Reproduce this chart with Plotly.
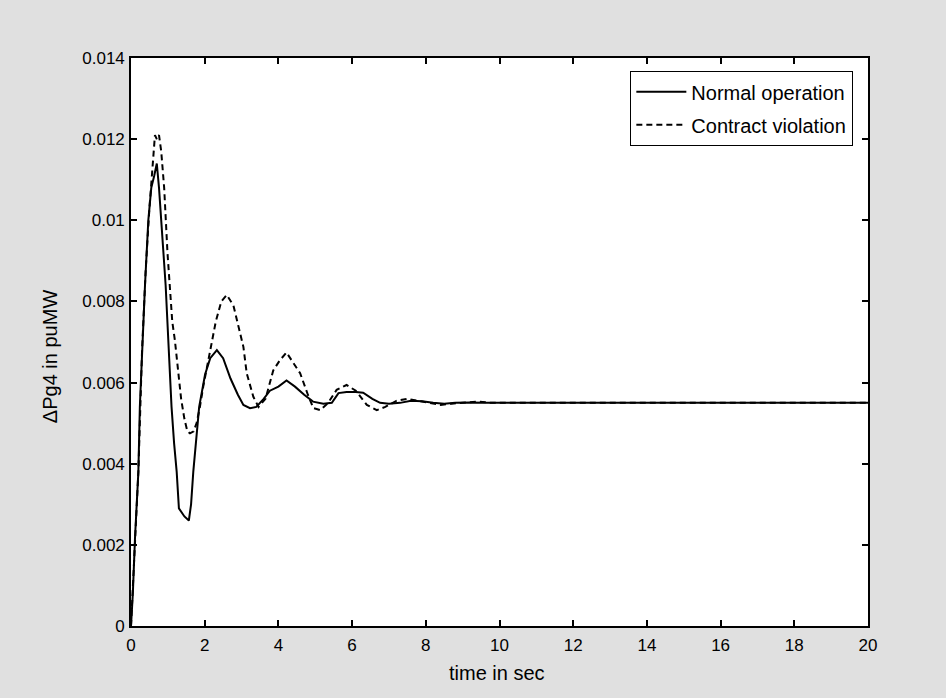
import plotly.graph_objects as go

# ---- data ----
t_normal = [0, 0.05, 0.11, 0.2, 0.24, 0.31, 0.38, 0.47, 0.55, 0.63, 0.70, 0.76, 0.81, 0.88,
            0.94, 1.01, 1.10, 1.17, 1.24, 1.30, 1.45, 1.57, 1.63, 1.69, 1.77, 1.85, 2.01,
            2.15, 2.33, 2.5, 2.7, 2.9, 3.05, 3.23, 3.4, 3.6, 3.77, 4.0, 4.22, 4.45, 4.7,
            4.94, 5.22, 5.45, 5.63, 5.85, 6.1, 6.3, 6.55, 6.76, 7.0, 7.3, 7.6, 7.9, 8.2,
            8.5, 8.8, 9.2, 9.6, 10, 12, 14, 16, 18, 20]
v_normal = [0, 0.0008, 0.0022, 0.0038, 0.0054, 0.0071, 0.0084, 0.0100, 0.0108, 0.0111,
            0.0114, 0.0108, 0.0100, 0.0092, 0.0084, 0.0071, 0.0054, 0.0045, 0.0038, 0.0029,
            0.0027, 0.0026, 0.0030, 0.0038, 0.0046, 0.0054, 0.0062, 0.0066, 0.0068, 0.0066,
            0.0061, 0.0057, 0.00545, 0.00537, 0.0054, 0.0056, 0.0058, 0.0059, 0.00605,
            0.0059, 0.0057, 0.00553, 0.00548, 0.0055, 0.00574, 0.00577, 0.00577, 0.00575,
            0.0056, 0.0055, 0.00548, 0.0055, 0.00555, 0.00554, 0.0055, 0.00548, 0.0055,
            0.00551, 0.0055, 0.0055, 0.0055, 0.0055, 0.0055, 0.0055, 0.0055]

t_violation = [0, 0.11, 0.2, 0.3, 0.4, 0.5, 0.58, 0.65, 0.70, 0.76, 0.82, 0.90, 0.99, 1.06,
               1.12, 1.19, 1.27, 1.36, 1.45, 1.53, 1.60, 1.70, 1.78, 1.87, 1.96, 2.05, 2.17,
               2.3, 2.45, 2.6, 2.78, 2.91, 3.05, 3.14, 3.32, 3.46, 3.65, 3.86, 4.04, 4.22,
               4.4, 4.59, 4.8, 4.95, 5.14, 5.35, 5.58, 5.85, 6.1, 6.4, 6.67, 6.9, 7.2, 7.5,
               7.8, 8.1, 8.4, 8.7, 9.0, 9.4, 9.8, 10.5, 12, 14, 16, 18, 20]
v_violation = [0, 0.0021, 0.0038, 0.0068, 0.0088, 0.0103, 0.0113, 0.0121, 0.0120, 0.0121,
               0.0117, 0.0108, 0.0092, 0.0083, 0.0075, 0.00705, 0.0063, 0.0056, 0.0051,
               0.0048, 0.00475, 0.0048, 0.0050, 0.0054, 0.0059, 0.0063, 0.0069, 0.0075,
               0.0080, 0.00816, 0.0079, 0.00738, 0.00688, 0.00623, 0.00565, 0.0054, 0.0056,
               0.0063, 0.00655, 0.00674, 0.0065, 0.00623, 0.0057, 0.00537, 0.00532, 0.0055,
               0.00582, 0.00594, 0.0058, 0.00545, 0.00532, 0.0054, 0.00555, 0.0056, 0.00555,
               0.0055, 0.00545, 0.00548, 0.0055, 0.00553, 0.0055, 0.0055, 0.0055, 0.0055,
               0.0055, 0.0055, 0.0055]

x_ticks = [0, 2, 4, 6, 8, 10, 12, 14, 16, 18, 20]
y_ticks = [0, 0.002, 0.004, 0.006, 0.008, 0.01, 0.012, 0.014]
y_tick_labels = ["0", "0.002", "0.004", "0.006", "0.008", "0.01", "0.012", "0.014"]

series_names = ["Normal operation", "Contract violation"]
x_title = "time in sec"
y_title = "ΔPg4 in puMW"

FONT = "Liberation Sans, Arial, sans-serif"

fig = go.Figure()
fig.add_trace(go.Scatter(x=t_normal, y=v_normal, mode="lines", name=series_names[0],
                         legendgroup="a",
                         line=dict(color="black", width=2)))
fig.add_trace(go.Scatter(x=t_violation, y=v_violation, mode="lines", name=series_names[1],
                         legendgroup="b",
                         line=dict(color="black", width=2, dash="6px,4px")))

axis_common = dict(showline=True, linecolor="black", linewidth=1.6, mirror="ticks",
                   ticks="inside", ticklen=6, tickwidth=1.6, tickcolor="black",
                   showgrid=False, zeroline=False,
                   tickfont=dict(family=FONT, size=17, color="black"))

fig.update_xaxes(range=[0, 20], tickvals=x_ticks, ticklabelstandoff=3, **axis_common)
fig.update_yaxes(range=[0, 0.014], tickvals=y_ticks, ticktext=y_tick_labels,
                 ticklabelstandoff=1, **axis_common)

fig.update_layout(
    width=946, height=698,
    margin=dict(l=131, r=78, t=58, b=72),
    paper_bgcolor="#e0e0e0",
    plot_bgcolor="white",
    showlegend=True,
    legend=dict(x=0.9797, y=0.977, xanchor="right", yanchor="top",
                bgcolor="white", bordercolor="black", borderwidth=1.3,
                font=dict(family=FONT, size=20, color="black"),
                traceorder="grouped", tracegroupgap=4,
                itemwidth=50),
    annotations=[
        dict(text=x_title, xref="paper", yref="paper", x=0.497, y=-0.083,
             xanchor="center", yanchor="middle", showarrow=False,
             font=dict(family=FONT, size=20, color="black")),
        dict(text=y_title, xref="paper", yref="paper", x=-0.11, y=0.475,
             xanchor="center", yanchor="middle", textangle=-90, showarrow=False,
             font=dict(family=FONT, size=20, color="black")),
    ],
)

fig.write_html("out.html")
